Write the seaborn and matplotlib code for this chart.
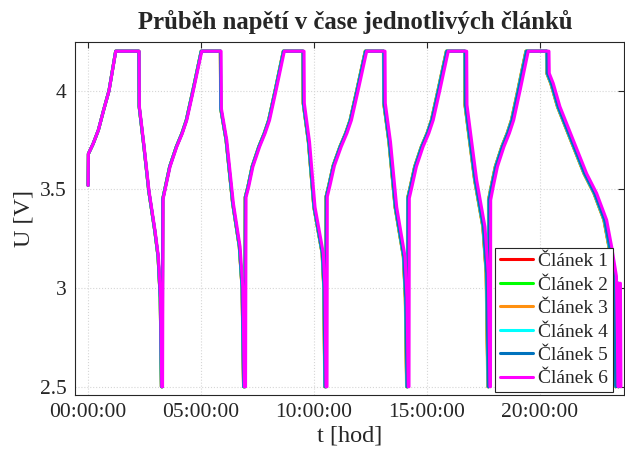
import numpy as np
import pandas as pd
import matplotlib
matplotlib.use("Agg")
import matplotlib.pyplot as plt
import seaborn as sns
from matplotlib.ticker import FuncFormatter

# ---- data (time in hours, voltage in V) (Článek 6 trace) ----
time_h = [
    # cycle 1
    0.000, 0.013, 0.221, 0.456, 0.686, 0.929, 1.226, 2.257, 2.270, 2.478, 2.699, 2.965, 3.111, 3.208, 3.261,
    # cycle 2
    3.296, 3.319, 3.438, 3.628, 3.925, 4.173, 4.367, 4.659, 5.031, 5.885, 5.898, 6.137, 6.429, 6.726, 6.850, 6.916,
    # cycle 3
    6.969, 6.991, 7.111, 7.296, 7.593, 7.836, 8.031, 8.319, 8.686, 9.558, 9.571, 9.801, 10.044, 10.412, 10.487, 10.531,
    # cycle 4
    10.575, 10.588, 10.708, 10.903, 11.204, 11.456, 11.655, 11.951, 12.332, 13.142, 13.155, 13.385, 13.659, 14.027, 14.115, 14.173,
    # cycle 5
    14.204, 14.217, 14.336, 14.531, 14.827, 15.080, 15.274, 15.566, 15.942, 16.757, 16.770, 16.969, 17.199, 17.566, 17.712, 17.788,
    # cycle 6
    17.810, 17.819, 17.934, 18.119, 18.407, 18.646, 18.836, 19.119, 19.482, 20.398, 20.412, 20.588, 20.885, 21.473,
    22.066, 22.509, 22.951, 23.173, 23.385, 23.465, 23.487, 23.562, 23.584,
]
volt = [
    3.52, 3.68, 3.73, 3.80, 3.90, 4.00, 4.20, 4.20, 3.92, 3.72, 3.49, 3.29, 3.16, 2.95, 2.50,
    2.50, 3.45, 3.514, 3.615, 3.716, 3.784, 3.85, 4.00, 4.20, 4.20, 3.91, 3.75, 3.43, 3.21, 3.00, 2.50,
    2.50, 3.46, 3.514, 3.615, 3.716, 3.784, 3.85, 4.00, 4.20, 4.20, 3.936, 3.74, 3.41, 3.176, 3.00, 2.50,
    2.50, 3.463, 3.52, 3.62, 3.716, 3.784, 3.85, 4.00, 4.20, 4.20, 3.936, 3.74, 3.41, 3.16, 2.95, 2.50,
    2.50, 3.455, 3.514, 3.615, 3.716, 3.784, 3.85, 4.00, 4.20, 4.20, 3.928, 3.75, 3.547, 3.31, 3.076, 2.50,
    2.50, 3.446, 3.514, 3.615, 3.716, 3.784, 3.85, 4.00, 4.20, 4.20, 4.088, 4.037, 3.919, 3.75,
    3.58, 3.48, 3.345, 3.21, 3.06, 2.50, 3.024, 3.024, 2.50,
]
cells = ["Článek 1", "Článek 2", "Článek 3", "Článek 4", "Článek 5", "Článek 6"]
cell_time_scale = [0.9950, 0.9950, 0.9945, 0.9955, 0.9960, 1.0000]
colors = ["#ff0000", "#00ff00", "#ff9010", "#00ffff", "#0072bd", "#ff00ff"]
x_ticks = [0, 5, 10, 15, 20]
y_ticks = [2.5, 3.0, 3.5, 4.0]
y_tick_labels = ["2.5", "3", "3.5", "4"]

frames = []
for name, sc in zip(cells, cell_time_scale):
    frames.append(pd.DataFrame({"t": np.array(time_h) * sc, "U": volt, "cell": name}))
df = pd.concat(frames, ignore_index=True)

sns.set_style("white")
plt.rcParams["font.family"] = ["Liberation Serif", "DejaVu Serif"]

fig = plt.figure(figsize=(6.25, 4.59), dpi=100)
ax = fig.add_axes([75 / 625, 1 - 395 / 459, (624 - 75) / 625, (395 - 41.7) / 459])

sns.lineplot(data=df, x="t", y="U", hue="cell", palette=dict(zip(cells, colors)),
             sort=False, estimator=None, units="cell", linewidth=2.2, ax=ax)

ax.set_xlim(-0.58, 23.72)
ax.set_ylim(2.458, 4.248)
ax.set_xticks(x_ticks)
ax.xaxis.set_major_formatter(FuncFormatter(lambda v, p: f"{int(round(v)):02d}:00:00"))
ax.set_yticks(y_ticks)
ax.set_yticklabels(y_tick_labels)

ax.grid(True, linestyle=":", color="#d6d6d6", linewidth=0.8)
for s in ax.spines.values():
    s.set_visible(True)
    s.set_color("#262626")
    s.set_linewidth(0.8)
ax.tick_params(direction="in", length=4, width=0.8, color="#262626", top=True, right=True,
               labelsize=15.5, labelcolor="#262626", pad=6)

ax.set_xlabel("t [hod]", fontsize=17.5, color="#262626", labelpad=2)
ax.set_ylabel("U [V]", fontsize=17.5, color="#262626", labelpad=4)
ax.set_title("Průběh napětí v čase jednotlivých článků", fontsize=17.8, fontweight="bold",
             pad=9, x=0.51)

leg = ax.legend(loc="lower right", bbox_to_anchor=(0.9805, 0.0076), borderaxespad=0,
                fontsize=14, frameon=True, fancybox=False, framealpha=1, edgecolor="#262626",
                handlelength=1.7, handletextpad=0.3, labelspacing=0.3, borderpad=0.25)
leg.get_frame().set_linewidth(0.8)
for line in leg.get_lines():
    line.set_linewidth(2.2)

fig.savefig("out.png", dpi=100)
